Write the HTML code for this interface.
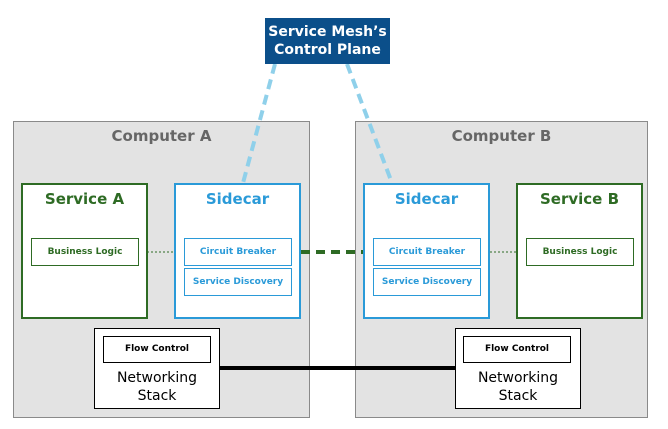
<!DOCTYPE html>
<html><head><style>
body{margin:0;width:668px;height:429px;background:#fff;position:relative;overflow:hidden;font-family:"DejaVu Sans","Liberation Sans",sans-serif}
div{position:absolute;box-sizing:border-box}
.comp{background:#e3e3e3;border:1.5px solid #8a8a8a;top:121px;height:297px}
.ct{color:#666;font-size:15px;font-weight:bold;text-align:center;width:100%;top:5px}
.svc{border:2px solid #2e6b24;background:#fff;top:183px;height:136px;width:127px}
.sc{border:2px solid #2a9ad8;background:#fff;top:183px;height:136px;width:127px}
.t{width:100%;text-align:center;top:5px;font-size:15px;font-weight:bold}
.ib{height:28px;width:108px;font-size:9px;font-weight:bold;text-align:center;line-height:26px}
.g{border:1px solid #2e6b24;color:#2e6b24}
.b{border:1px solid #2a9ad8;color:#2a9ad8}
.ns{border:1.5px solid #000;background:#fff;top:328px;height:81px;width:126px;text-align:center;font-size:14px;line-height:18px}
.fc{border:1.5px solid #000;top:336px;width:108px;height:27px;font-size:9px;font-weight:bold;text-align:center;line-height:25px}
</style></head><body>
<div class="comp" style="left:13px;width:297px"><div class="ct">Computer A</div></div>
<div class="comp" style="left:355px;width:293px"><div class="ct">Computer B</div></div>
<svg width="668" height="429" style="position:absolute;left:0;top:0">
<line x1="275" y1="64" x2="243" y2="183" stroke="#8fd0ea" stroke-width="4" stroke-dasharray="10,6"/>
<line x1="347" y1="64" x2="392" y2="183" stroke="#8fd0ea" stroke-width="4" stroke-dasharray="10,6"/>
<line x1="139" y1="252" x2="184" y2="252" stroke="#2e6b24" stroke-width="1" stroke-dasharray="2,2"/>
<line x1="482" y1="252" x2="526" y2="252" stroke="#2e6b24" stroke-width="1" stroke-dasharray="2,2"/>
<line x1="301" y1="252" x2="363" y2="252" stroke="#2e6b24" stroke-width="4" stroke-dasharray="9,6"/>
<line x1="220" y1="368" x2="455" y2="368" stroke="#000" stroke-width="4"/>
</svg>
<div style="left:265px;top:18px;width:125px;height:46px;background:#0b4f8a;color:#fff;font-size:14px;font-weight:bold;text-align:center;line-height:18px;padding-top:5px">Service Mesh’s<br>Control Plane</div>
<div class="svc" style="left:21px"><div class="t" style="color:#2e6b24">Service A</div></div>
<div class="sc" style="left:174px"><div class="t" style="color:#2a9ad8">Sidecar</div></div>
<div class="sc" style="left:363px"><div class="t" style="color:#2a9ad8">Sidecar</div></div>
<div class="svc" style="left:516px"><div class="t" style="color:#2e6b24">Service B</div></div>
<div class="ib g" style="left:31px;top:238px">Business Logic</div>
<div class="ib b" style="left:184px;top:238px">Circuit Breaker</div>
<div class="ib b" style="left:184px;top:268px">Service Discovery</div>
<div class="ib b" style="left:373px;top:238px">Circuit Breaker</div>
<div class="ib b" style="left:373px;top:268px">Service Discovery</div>
<div class="ib g" style="left:526px;top:238px">Business Logic</div>
<div class="ns" style="left:94px;padding-top:40px">Networking<br>Stack</div>
<div class="fc" style="left:103px">Flow Control</div>
<div class="ns" style="left:455px;padding-top:40px">Networking<br>Stack</div>
<div class="fc" style="left:463px">Flow Control</div>
</body></html>
